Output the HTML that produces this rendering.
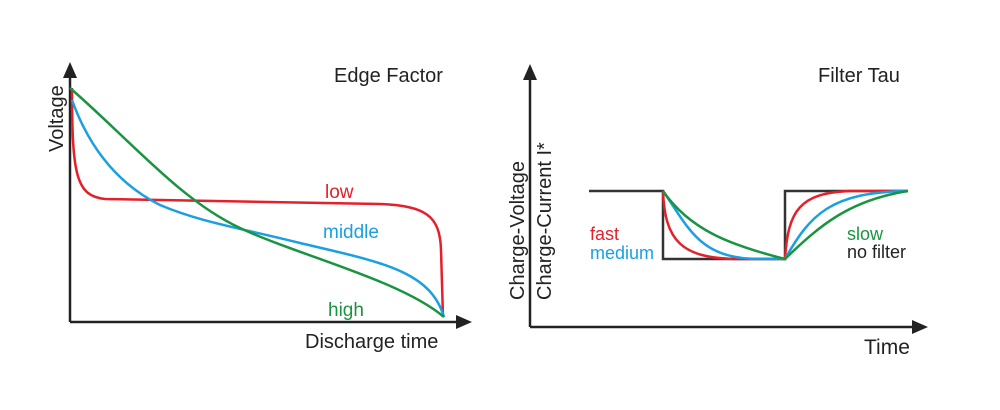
<!DOCTYPE html>
<html><head><style>body{margin:0;background:#fff}svg{display:block}text{font-family:"Liberation Sans",sans-serif}</style></head><body>
<svg width="1000" height="410" viewBox="0 0 1000 410">
<g fill="none" stroke-width="2.5">
<path d="M70,322V72M70,322H460" stroke="#222"/>
<path d="M72,88 C72,175 76,196 105,199 L380,204 C425,206 440,215 441,250 L443,317" stroke="#e4202a"/>
<path d="M72,100 C90,150 120,185 160,205 C200,222 240,228 300,243 C380,262 430,270 444,317" stroke="#1aa0e0"/>
<path d="M70,88 C130,140 180,200 240,228 C300,256 400,280 444,317" stroke="#1a9440"/>
<path d="M530,327V75M530,327H918" stroke="#222"/>
<path d="M589,191H663V259H785V191H908" stroke="#333"/>
<path d="M663,191 C665,240 680,259 740,259 L785,259 C788,210 800,193 850,191 L908,191" stroke="#e4202a"/>
<path d="M663,191 C690,230 700,259 760,259 L785,259 C810,215 830,192 908,191" stroke="#1aa0e0"/>
<path d="M663,191 C690,230 730,245 785,259 C820,225 850,200 908,191" stroke="#1a9440"/>
</g>
<path d="M63,78L70,62L77,78Z M456,315L472,322L456,329Z M523,80L530,64L537,80Z M912,320L928,327L912,334Z" fill="#222"/>
<g font-size="20" fill="#222">
<text x="334" y="82">Edge Factor</text>
<text x="305" y="348">Discharge time</text>
<text transform="translate(63,152) rotate(-90)">Voltage</text>
<text x="818" y="82">Filter Tau</text>
<text x="864" y="354" font-size="21">Time</text>
<text transform="translate(524,300) rotate(-90)">Charge-Voltage</text>
<text transform="translate(551,300) rotate(-90)">Charge-Current I*</text>
<text x="847" y="258" font-size="18">no filter</text>
</g>
<g font-size="19">
<text x="325" y="198" fill="#e4202a">low</text>
<text x="323" y="238" fill="#1aa0e0">middle</text>
<text x="328" y="316" fill="#1a9440">high</text>
</g>
<g font-size="18">
<text x="590" y="240" fill="#e4202a">fast</text>
<text x="590" y="259" fill="#1aa0e0">medium</text>
<text x="847" y="240" fill="#1a9440">slow</text>
</g>
</svg>
</body></html>
